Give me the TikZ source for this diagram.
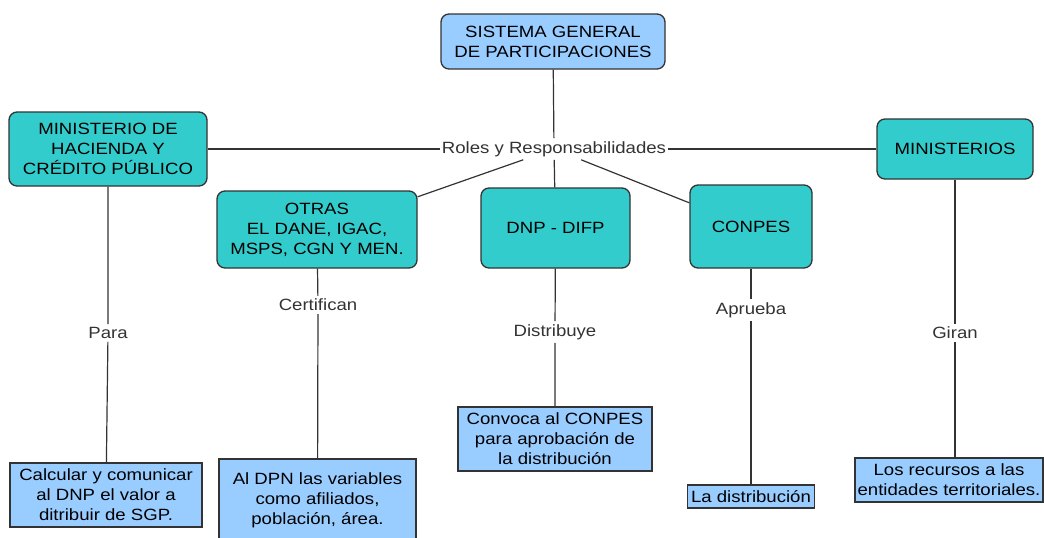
\documentclass[tikz,border=0pt]{standalone}
\usepackage{fontspec}
\setmainfont{Liberation Sans}[FakeStretch=1.14]
\definecolor{turquesa}{RGB}{51,204,204}
\definecolor{cielo}{RGB}{153,204,255}
\definecolor{linea}{RGB}{51,51,51}
\begin{document}
\begin{tikzpicture}[x=1pt,y=-1pt,font=\fontsize{16.3}{20}\selectfont,
	ente/.style={draw=linea,line width=1.3pt,fill=turquesa,rounded corners=8pt,align=center,inner sep=0pt},
	tarea/.style={draw=linea,line width=1.3pt,fill=cielo,align=center,inner sep=0pt},
	rol/.style={fill=white,text=linea,inner xsep=2pt,inner ysep=3pt},
	enlace/.style={draw=linea,line width=1.2pt}]
	\useasboundingbox (0,0) rectangle (1044,538);
	% entidades
	\node[ente,fill=cielo,minimum width=224,minimum height=55] (sgp) at (553,41.5) {SISTEMA GENERAL\\DE PARTICIPACIONES};
	\node[ente,minimum width=198,minimum height=74] (mhcp) at (108,149) {MINISTERIO DE\\HACIENDA Y\\CRÉDITO PÚBLICO};
	\node[ente,minimum width=156,minimum height=60] (minis) at (955,149) {MINISTERIOS};
	\node[ente,minimum width=200,minimum height=77] (otras) at (317,229.5) {OTRAS\\EL DANE, IGAC,\\MSPS, CGN Y MEN.};
	\node[ente,minimum width=149,minimum height=80] (dnp) at (555.5,228) {DNP - DIFP};
	\node[ente,minimum width=122,minimum height=83] (conpes) at (751,226.5) {CONPES};
	% tareas
	\node[tarea,minimum width=192,minimum height=64] (calc) at (106,495) {Calcular y comunicar\\al DNP el valor a\\ditribuir de SGP.};
	\node[tarea,minimum width=197,minimum height=82] (dpn) at (317.5,500) {Al DPN las variables\\como afiliados,\\población, área.};
	\node[tarea,minimum width=194,minimum height=64] (conv) at (555,439) {Convoca al CONPES\\para aprobación de\\la distribución};
	\node[tarea,minimum width=127,minimum height=23] (dist) at (751,496.5) {La distribución};
	\node[tarea,minimum width=188,minimum height=44] (rec) at (949,480) {Los recursos a las\\entidades territoriales.};
	% rotulos
	\node[rol] (roles) at (554,149) {Roles y Responsabilidades};
	\node[rol] (para) at (108,333) {Para};
	\node[rol] (certif) at (318,305) {Certifican};
	\node[rol] (distrib) at (555,332) {Distribuye};
	\node[rol] (aprueba) at (751,310) {Aprueba};
	\node[rol] (giran) at (955,333) {Giran};
	% enlaces
	\draw[enlace] (sgp) -- (roles);
	\draw[enlace] (mhcp) -- (roles) -- (minis);
	\draw[enlace] (roles) -- (otras.18);
	\draw[enlace] (roles) -- (dnp);
	\draw[enlace] (roles) -- (conpes.159);
	\draw[enlace] (mhcp) -- (para) -- (calc);
	\draw[enlace] (otras) -- (certif) -- (dpn);
	\draw[enlace] (dnp) -- (distrib) -- (conv);
	\draw[enlace] (conpes) -- (aprueba) -- (dist);
	\draw[enlace] (minis) -- (giran) -- (giran |- rec.north);
\end{tikzpicture}
\end{document}
